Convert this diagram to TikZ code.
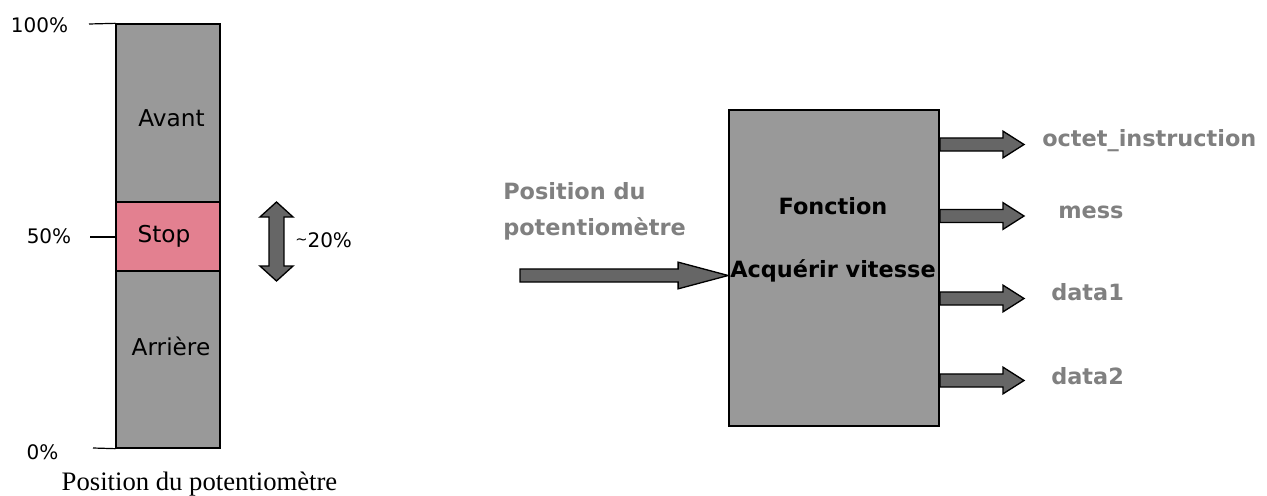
\documentclass[tikz,border=0pt]{standalone}
\usepackage{fontspec}
\setmainfont{DejaVu Sans}
\newfontfamily\dvs{DejaVu Sans}
\newfontfamily\lserif{Liberation Serif}
\usetikzlibrary{calc}
\definecolor{bargray}{HTML}{999999}
\definecolor{stoppink}{HTML}{E38090}
\definecolor{arrgray}{HTML}{666666}
\definecolor{txtgray}{HTML}{808080}
\tikzset{
  band/.style={draw=black, line width=1pt, inner sep=0pt, minimum width=78pt},
  fbox/.style={draw=black, line width=1.3pt, fill=bargray, inner sep=0pt, minimum width=157.5pt, minimum height=237pt},
  blk/.style={draw=black, line width=1pt, fill=arrgray, line join=miter},
  tick/.style={draw=black, line width=0.9pt},
  pct/.style={anchor=base, font=\dvs\fontsize{15}{17}\selectfont, inner sep=0pt},
  bandtxt/.style={anchor=base, font=\dvs\fontsize{17.4}{19}\selectfont, inner sep=0pt},
  btxt/.style={anchor=base, font=\dvs\bfseries\fontsize{16.8}{19}\selectfont, inner sep=0pt},
  gtxt/.style={anchor=base west, font=\dvs\bfseries\fontsize{16.8}{19}\selectfont, text=txtgray, inner sep=0pt},
}
% horizontal block arrow: #1 start, #2 tip, #3 shaft half, #4 head half, #5 head length
\newcommand\harrow[5]{%
  \draw[blk] let \p1=(#1), \p2=(#2) in
    (\x1,\y1+#3) -- (\x2-#5,\y1+#3) -- (\x2-#5,\y1+#4) -- (\x2,\y1)
    -- (\x2-#5,\y1-#4) -- (\x2-#5,\y1-#3) -- (\x1,\y1-#3) -- cycle;}
\begin{document}
\begin{tikzpicture}[x=0.75pt,y=-0.75pt]
\useasboundingbox (0,0) rectangle (1267,496);
% ---- left bar
\node[band, fill=bargray, minimum height=133.5pt] (avant) at (168,113) {};
\node[band, fill=stoppink, minimum height=51.75pt] (stop) at (168,236.5) {};
\node[band, fill=bargray, minimum height=132.75pt] (arr) at (168,359.5) {};
\node[bandtxt] (tavant) at (171.5,126) {Avant};
\node[bandtxt] (tstop) at (164,242) {Stop};
\node[bandtxt] (tarr) at (171,355) {Arrière};
% ticks
\coordinate (t100) at (89,24);
\coordinate (t50) at (90,237);
\coordinate (t0) at (93,448);
\draw[tick] (t100) -- (avant.north west);
\draw[tick] (t50) -- (t50 -| stop.west);
\draw[tick] (t0) -- (arr.south west);
\node[pct] (l100) at (39.5,32) {100\%};
\node[pct] (l50) at (49,243) {50\%};
\node[pct] (l0) at (42.5,459) {0\%};
% double arrow
\coordinate (dt) at (276.5,202);
\coordinate (db) at (276.5,281);
\draw[blk] let \p1=(dt), \p2=(db) in
  (\x1,\y1) -- (\x1+12.4pt,\y1-11.25pt) -- (\x1+5.6pt,\y1-11.25pt) -- (\x1+5.6pt,\y2+11.25pt)
  -- (\x1+12.4pt,\y2+11.25pt) -- (\x2,\y2) -- (\x1-12.4pt,\y2+11.25pt) -- (\x1-5.6pt,\y2+11.25pt)
  -- (\x1-5.6pt,\y1-11.25pt) -- (\x1-12.4pt,\y1-11.25pt) -- cycle;
\node[pct, anchor=base west] (l20) at (295,247) {\raisebox{0.25ex}{\fontsize{11}{12}\selectfont\char"007E}20\%};
\node[anchor=base, inner sep=0pt, font=\lserif\fontsize{20}{22}\selectfont] (cap) at (199.5,490) {Position du potentiomètre};
% ---- right box
\node[fbox] (fn) at (834,268) {};
\node[btxt] (f1) at (833,214) {Fonction};
\node[btxt] (f2) at (833,277) {Acquérir vitesse};
% input
\coordinate (in0) at (520,275.5);
\harrow{in0}{fn.west |- in0}{4.9pt}{10pt}{37.5pt}
\node[gtxt] (ilab1) at (503,199) {Position du};
\node[gtxt] (ilab2) at (503,235) {potentiomètre};
% outputs
\coordinate (o1) at (1024,144.5);
\coordinate (o2) at (1024,216);
\coordinate (o3) at (1024,298.5);
\coordinate (o4) at (1024,380.5);
\harrow{fn.east |- o1}{o1}{4.9pt}{10pt}{15.75pt}
\harrow{fn.east |- o2}{o2}{4.9pt}{10pt}{15.75pt}
\harrow{fn.east |- o3}{o3}{4.9pt}{10pt}{15.75pt}
\harrow{fn.east |- o4}{o4}{4.9pt}{10pt}{15.75pt}
\node[gtxt] (olab1) at (1042,146) {octet\_instruction};
\node[gtxt] (olab2) at (1058,218) {mess};
\node[gtxt] (olab3) at (1051,300) {data1};
\node[gtxt] (olab4) at (1051,384) {data2};
\end{tikzpicture}
\end{document}
